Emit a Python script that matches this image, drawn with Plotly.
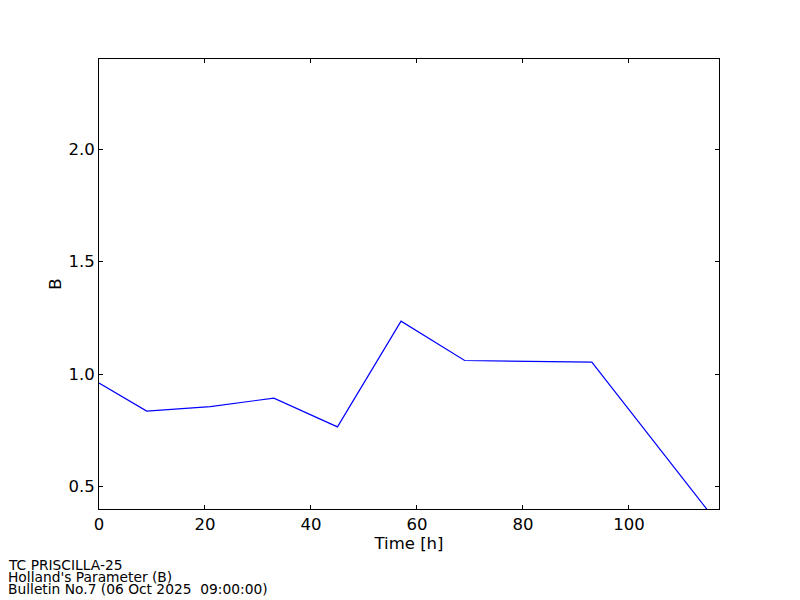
import plotly.graph_objects as go

hours = [0, 9, 21, 33, 45, 57, 69, 93, 117]
b_values = [0.96, 0.835, 0.855, 0.893, 0.765, 1.235, 1.06, 1.053, 0.33]
x_ticks = [0, 20, 40, 60, 80, 100]
y_ticks = [0.5, 1.0, 1.5, 2.0]
footer = ["TC PRISCILLA-25", "Holland's Parameter (B)", "Bulletin No.7 (06 Oct 2025  09:00:00)"]

OFF = 8  # page body margin
W, H = 800, 600
L, T = 99 - OFF, 59 - OFF
pw, ph = 620, 450
R, B = W - L - pw, H - T - ph

fig = go.Figure(go.Scatter(x=hours, y=b_values, mode="lines",
                           line=dict(color="#0000ff", width=1.2), cliponaxis=True))

axis_common = dict(showline=True, linecolor="black", linewidth=1, mirror="allticks",
                   ticks="inside", ticklen=4, tickcolor="black", showgrid=False,
                   zeroline=False, tickfont=dict(size=16.5, color="black"))
fig.update_xaxes(range=[0, 117], tickvals=x_ticks, ticktext=[str(v) for v in x_ticks],
                 title=dict(text="Time [h]", font=dict(size=16.5, color="black"), standoff=2),
                 **axis_common)
fig.update_yaxes(range=[0.4, 2.4], tickvals=y_ticks, ticktext=[f"{v:.1f}" for v in y_ticks],
                 title=dict(text="B", font=dict(size=16.5, color="black"), standoff=2),
                 **axis_common)

for i, line in enumerate(footer):
    ypix = 555 + i * 12 - OFF
    fig.add_annotation(text=line, xref="paper", yref="paper",
                       x=(6 - OFF - L) / pw, y=(T + ph - ypix) / ph,
                       xanchor="left", yanchor="top", showarrow=False,
                       font=dict(size=13.8, color="black"))

fig.update_layout(width=W, height=H, margin=dict(l=L, r=R, t=T, b=B),
                  paper_bgcolor="white", plot_bgcolor="white",
                  font=dict(family="DejaVu Sans", color="black"), showlegend=False)

fig.write_html("out.html")
